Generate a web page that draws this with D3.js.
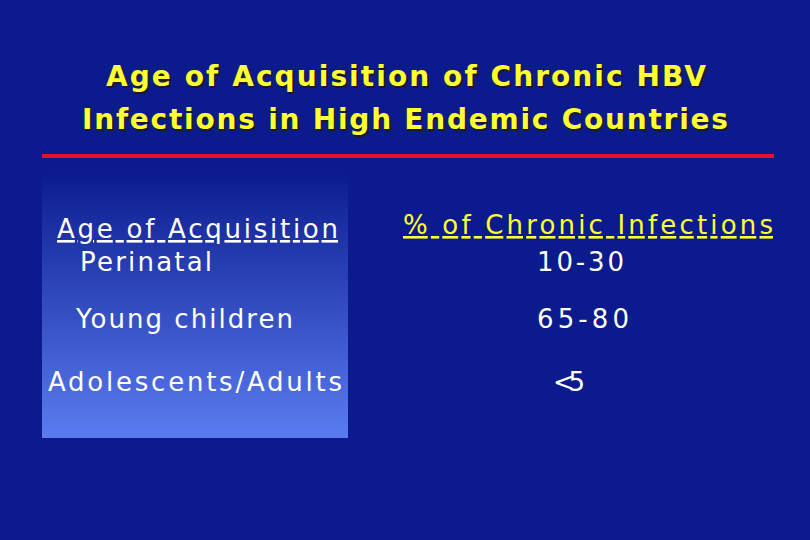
<!DOCTYPE html>
<html><head><meta charset="utf-8">
<script src="https://cdn.jsdelivr.net/npm/d3@7"></script>
<style>body{margin:0;background:#0a1a8c}</style>
</head><body><svg width="810" height="540"></svg>
<script>
const svg = d3.select('svg');
const largura = +svg.attr('width');

const titulo = ['Age of Acquisition of Chronic HBV', 'Infections in High Endemic Countries'];
const cabecalhos = ['Age of Acquisition', '% of Chronic Infections'];
const idades = ['Perinatal', 'Young children', 'Adolescents/Adults'];
const cronicas = ['10-30', '65-80', '<5'];

const defs = svg.append('defs');
const caixa = defs.append('linearGradient').attr('id', 'caixa').attr('x1', 0).attr('y1', 0).attr('x2', 0).attr('y2', 1);
caixa.append('stop').attr('offset', '0%').attr('stop-color', '#0c1c90');
caixa.append('stop').attr('offset', '100%').attr('stop-color', '#5a7cf0');

svg.append('rect').attr('width', largura).attr('height', 540).attr('fill', '#0b1a8c');
svg.append('rect').attr('x', 42).attr('y', 175).attr('width', 306).attr('height', 263).attr('fill', 'url(#caixa)');

const fonte = '"DejaVu Sans", sans-serif';

// largura medida no original para cada texto
const texto = (x, y, t, len, cor, sub, peso) => svg.append('text')
    .attr('x', x).attr('y', y)
    .attr('textLength', len).attr('lengthAdjust', 'spacing')
    .attr('font-family', fonte).attr('font-size', 26)
    .attr('font-weight', peso || 'normal')
    .attr('fill', cor).attr('text-decoration', sub ? 'underline' : null)
    .text(t);

const tituloX = [[106, 600], [82, 646]];
titulo.forEach((t, i) => {
    texto(tituloX[i][0] + 2, 86 + i * 43 + 2, t, tituloX[i][1], '#1a1a1a', false, 'bold').attr('font-size', 28);
    texto(tituloX[i][0], 86 + i * 43, t, tituloX[i][1], '#ffff33', false, 'bold').attr('font-size', 28);
});

svg.append('rect').attr('x', 42).attr('y', 154).attr('width', 732).attr('height', 4).attr('fill', '#e8102a');

texto(57, 238, cabecalhos[0], 281, '#ffffff', true);
texto(403, 234, cabecalhos[1], 370, '#ffff33', true);

const yEscala = d3.scaleBand().domain(idades).range([262, 432]);
const ajuste = [0, 0, 6];
const idadeX = [[80, 132], [76, 217], [48, 294]];
const cronX = [[537, 87], [537, 92], [553, 32]];

idades.forEach((d, i) => {
    const y = yEscala(d) + yEscala.bandwidth() / 2 + 9 + ajuste[i] - 28 + i * 0;
    texto(idadeX[i][0], y, d, idadeX[i][1], '#ffffff');
    texto(cronX[i][0], y, cronicas[i], cronX[i][1], '#ffffff');
});
</script></body></html>
